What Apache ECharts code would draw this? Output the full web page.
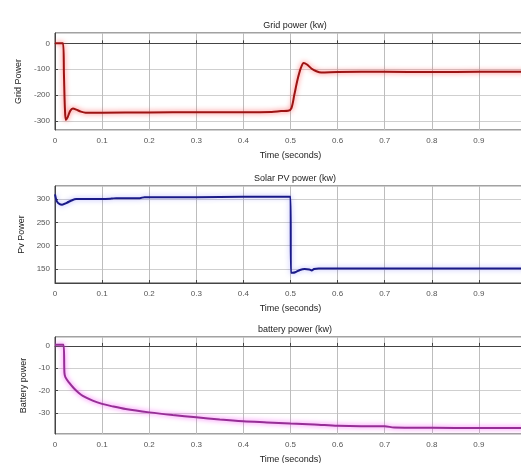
<!DOCTYPE html>
<html>
<head>
<meta charset="utf-8">
<script src="https://cdn.jsdelivr.net/npm/echarts@6/dist/echarts.min.js"></script>
<style>
  html, body { margin: 0; padding: 0; background: #fff; }
  #main { width: 521px; height: 463px; }
</style>
</head>
<body>
<div id="main"></div>
<script>
// grid power (kw)
const gridTime = [0, 0.017, 0.019, 0.021, 0.023, 0.027, 0.032, 0.038, 0.045, 0.055, 0.065, 0.1, 0.2, 0.3, 0.4, 0.46, 0.48, 0.495, 0.502, 0.508, 0.515, 0.522, 0.528, 0.535, 0.545, 0.555, 0.565, 0.6, 0.7, 0.8, 0.9, 1.0];
const gridVal  = [0, 0, -120, -250, -296, -285, -262, -252, -256, -264, -268, -268, -267, -266, -266, -265, -262, -261, -250, -200, -140, -95, -76, -82, -98, -108, -113, -111, -110, -111, -110, -110];

// solar PV power (kw)
const pvTime = [0, 0.004, 0.01, 0.015, 0.025, 0.035, 0.045, 0.1, 0.12, 0.13, 0.18, 0.19, 0.3, 0.4, 0.5, 0.501, 0.505, 0.51, 0.52, 0.53, 0.54, 0.545, 0.55, 0.56, 0.6, 0.7, 0.8, 0.9, 1.0];
const pvVal  = [310, 295, 289, 288, 292, 297, 300, 300, 301, 302, 302, 304, 304, 305, 305, 142, 142, 143, 148, 150, 149, 147, 150, 151, 151, 151, 151, 151, 151];

// battery power (kw)
const batTime = [0, 0.018, 0.02, 0.022, 0.03, 0.04, 0.05, 0.06, 0.08, 0.1, 0.12, 0.15, 0.2, 0.25, 0.3, 0.35, 0.4, 0.45, 0.5, 0.55, 0.6, 0.65, 0.7, 0.72, 0.8, 0.9, 1.0];
const batVal  = [0.5, 0.5, -12, -14, -16.5, -19, -21, -22.5, -24.5, -26, -27, -28.3, -29.8, -31, -32, -33, -33.8, -34.3, -34.8, -35.2, -35.8, -36, -36, -36.6, -36.7, -36.8, -36.8];

const titles = ['Grid power (kw)', 'Solar PV power (kw)', 'battery power (kw)'];
const yNames = ['Grid Power', 'Pv Power', 'Battery power'];
const yRanges = [[-335, 40], [120, 328], [-39.5, 4]];
const gridTops = [33, 186, 337];
const nameGaps = [32, 27, 26];
const colors = ['#9c1414', '#1a1a88', '#962e96'];
const glows = ['rgba(255,70,70,0.9)', 'rgba(90,90,255,0.5)', 'rgba(245,80,245,1)'];

const pairs = (t, v) => t.map((x, i) => [x, v[i]]);
const seriesData = [pairs(gridTime, gridVal), pairs(pvTime, pvVal), pairs(batTime, batVal)];

let myChart = echarts.init(document.getElementById('main'));
const font = 'Liberation Sans, Arial, sans-serif';

let option = {
  animation: false,
  title: titles.map((t, i) => ({
    text: t,
    left: 290,
    top: gridTops[i] - 17,
    textAlign: 'center',
    textStyle: { fontSize: 9, fontWeight: 'normal', color: '#222', fontFamily: font }
  })),
  grid: gridTops.map(t => ({
    left: 55, top: t, width: 471, height: 97,
    outerBoundsMode: 'none', containLabel: false,
    show: true, borderColor: '#444', borderWidth: 1, backgroundColor: '#fff'
  })),
  xAxis: gridTops.map((t, i) => ({
    gridIndex: i, type: 'value', min: 0, max: 1, interval: 0.1,
    name: 'Time (seconds)', nameLocation: 'middle', nameGap: 21,
    nameTextStyle: { fontSize: 9, color: '#222', fontFamily: font },
    axisLine: { show: true, lineStyle: { color: '#444' } },
    axisTick: { inside: true, length: 3, lineStyle: { color: '#444' } },
    axisLabel: { fontSize: 8, color: '#555', margin: 7, fontFamily: font,
      formatter: v => (Math.round(v * 10) / 10).toString() },
    splitLine: { show: true, lineStyle: { color: '#bdbdbd', width: 1 } }
  })),
  yAxis: yRanges.map((r, i) => ({
    gridIndex: i, type: 'value', min: r[0], max: r[1], splitNumber: 5,
    name: yNames[i], nameLocation: 'middle', nameRotate: 90, nameGap: nameGaps[i],
    nameTextStyle: { fontSize: 9, color: '#222', fontFamily: font },
    axisLine: { show: true, lineStyle: { color: '#444' } },
    axisTick: { inside: true, length: 3, lineStyle: { color: '#444' } },
    axisLabel: { fontSize: 8, color: '#555', margin: 5, fontFamily: font,
      showMinLabel: false, showMaxLabel: false },
    splitLine: { show: true, lineStyle: { color: '#cfcfcf', width: 1 } }
  })),
  series: seriesData.map((d, i) => ({
    type: 'line', xAxisIndex: i, yAxisIndex: i, data: d,
    showSymbol: false, smooth: 0.3,
    lineStyle: { color: colors[i], width: 2, shadowColor: glows[i], shadowBlur: 5 }
  }))
};

myChart.setOption(option);
</script>
</body>
</html>
